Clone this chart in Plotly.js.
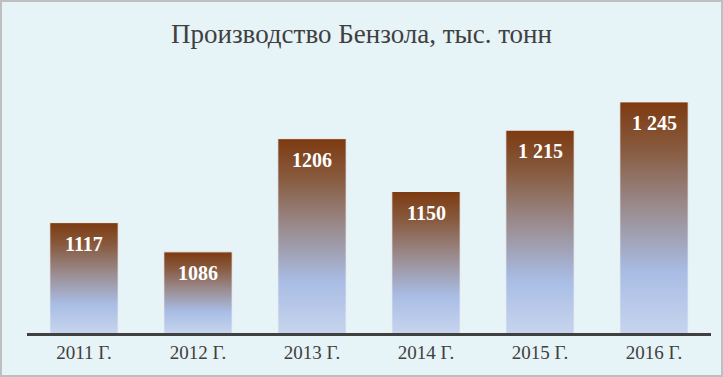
<!DOCTYPE html>
<html>
<head>
<meta charset="utf-8">
<script src="https://cdn.plot.ly/plotly-3.0.1.min.js"></script>
<style>
html,body{margin:0;padding:0;background:#e6f3f7;}
#wrap{position:relative;width:723px;height:377px;}
#chart{width:723px;height:377px;}
#frame{position:absolute;left:0;top:0;width:719px;height:373px;border:2px solid #bfbfbf;pointer-events:none;}
</style>
</head>
<body>
<div id="wrap"><div id="chart"></div><div id="frame"></div></div>
<script>
const categories = ["2011 Г.", "2012 Г.", "2013 Г.", "2014 Г.", "2015 Г.", "2016 Г."];
const values = [1117, 1086, 1206, 1150, 1215, 1245];
const labels = ["1117", "1086", "1206", "1150", "1 215", "1 245"];
const titleText = "Производство Бензола, тыс. тонн";

const serif = "'Liberation Serif', 'DejaVu Serif', serif";

const trace = {
  type: "bar",
  x: categories,
  y: values,
  marker: {color: "#9b8a8c", line: {color: "#eef2f4", width: 1}},
  hoverinfo: "none"
};

const annotations = categories.map((c, i) => ({
  x: c, y: values[i], xref: "x", yref: "y",
  text: "<b>" + labels[i] + "</b>",
  showarrow: false, yanchor: "middle", yshift: -21,
  font: {family: serif, size: 20, color: "#ffffff"}
}));

const layout = {
  width: 723, height: 377,
  margin: {l: 27, r: 12, t: 50, b: 44},
  paper_bgcolor: "#e6f3f7",
  plot_bgcolor: "#e6f3f7",
  title: {text: titleText, x: 0.5, xanchor: "center", y: 0.912, yanchor: "middle",
          font: {family: serif, size: 27, color: "#404040"}},
  bargap: 0.4,
  showlegend: false,
  xaxis: {showline: true, linecolor: "#404040", linewidth: 3, ticks: "",
          tickfont: {family: serif, size: 19, color: "#404040"}, showgrid: false, zeroline: false, fixedrange: true},
  yaxis: {range: [1000, 1300], visible: false, showgrid: false, zeroline: false, fixedrange: true},
  annotations: annotations
};

Plotly.newPlot("chart", [trace], layout, {displayModeBar: false, staticPlot: true}).then(gd => {
  const svg = gd.querySelector("svg.main-svg");
  const ns = "http://www.w3.org/2000/svg";
  let defs = svg.querySelector("defs");
  if (!defs) { defs = document.createElementNS(ns, "defs"); svg.insertBefore(defs, svg.firstChild); }
  const plotH = gd._fullLayout._size.h;
  const stops = [["0", "#7d3a10"], ["0.2", "#875a3e"], ["0.45", "#9a8a8c"], ["0.74", "#a9bde5"], ["1", "#c6d4ed"]];
  gd.querySelectorAll(".bars .point path").forEach((p, i) => {
    const bb = p.getBBox();
    const g = document.createElementNS(ns, "linearGradient");
    g.setAttribute("id", "bargrad" + i);
    g.setAttribute("gradientUnits", "userSpaceOnUse");
    g.setAttribute("x1", "0"); g.setAttribute("y1", String(bb.y));
    g.setAttribute("x2", "0"); g.setAttribute("y2", String(plotH));
    stops.forEach(([o, c]) => {
      const s = document.createElementNS(ns, "stop");
      s.setAttribute("offset", o); s.setAttribute("stop-color", c);
      g.appendChild(s);
    });
    defs.appendChild(g);
    p.style.fill = "url(#bargrad" + i + ")";
  });
});
</script>
</body>
</html>
